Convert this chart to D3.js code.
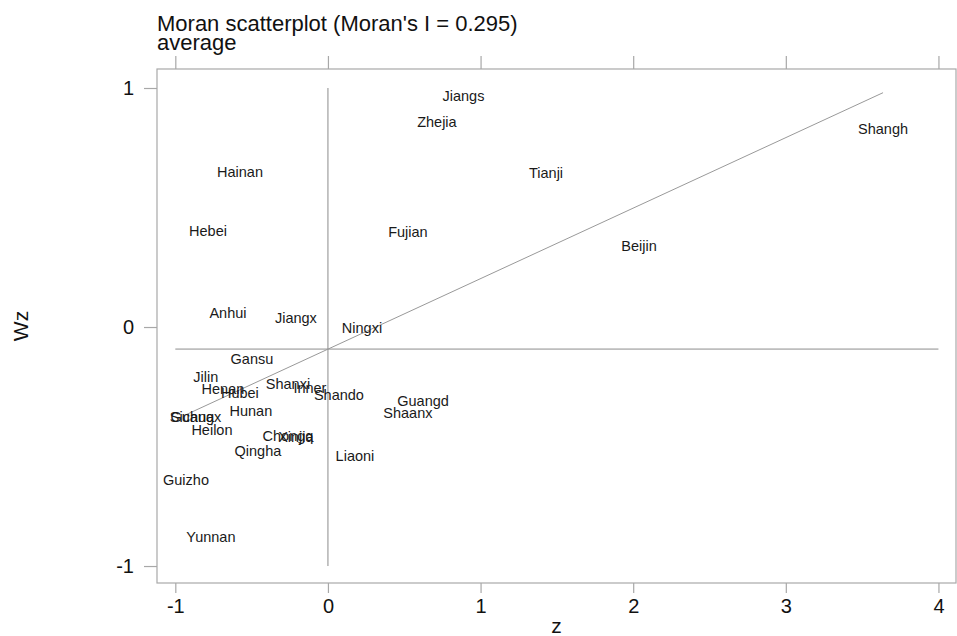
<!DOCTYPE html>
<html>
<head>
<meta charset="utf-8">
<script src="https://cdn.jsdelivr.net/npm/d3@7"></script>
<style>
  html, body { margin: 0; padding: 0; background: #fff; }
  svg { display: block; }
  text { font-family: "Liberation Sans", Arial, Helvetica, sans-serif; }
</style>
</head>
<body>
<svg id="chart" width="957" height="636"></svg>
<script>
// ---- data ----
const provinces = ["Jiangs","Zhejia","Shangh","Tianji","Hainan","Hebei","Fujian","Beijin","Anhui","Jiangx","Ningxi",
  "Gansu","Jilin","Henan","Hubei","Shanxi","Inner","Shando","Guangd","Shaanx","Hunan","Sichua","Guangx",
  "Heilon","Chongq","Xinjia","Qingha","Liaoni","Guizho","Yunnan"];
const zValues = [0.888, 0.714, 3.637, 1.429, -0.576, -0.786, 0.524, 2.038, -0.655, -0.210, 0.223,
  -0.498, -0.800, -0.688, -0.577, -0.262, -0.118, 0.072, 0.623, 0.524, -0.505, -0.891, -0.865,
  -0.760, -0.262, -0.210, -0.459, 0.177, -0.930, -0.767];
const wzValues = [0.947, 0.838, 0.809, 0.625, 0.629, 0.383, 0.378, 0.319, 0.039, 0.018, -0.024,
  -0.154, -0.229, -0.279, -0.296, -0.258, -0.275, -0.304, -0.329, -0.380, -0.371, -0.396, -0.396,
  -0.451, -0.476, -0.480, -0.538, -0.559, -0.660, -0.898];
const xTicks = [-1, 0, 1, 2, 3, 4];
const yTicks = [-1, 0, 1];
const moransI = 0.295;
const titleText = "Moran scatterplot (Moran's I = 0.295)";
const subtitleText = "average";
const xTitle = "z";
const yTitle = "Wz";

// ---- layout ----
const svg = d3.select("#chart");
const plot = { left: 157, right: 956, top: 69, bottom: 583 };
const x = d3.scaleLinear().domain([-1.12, 4.115]).range([plot.left, plot.right]);
const y = d3.scaleLinear().domain([-1.071, 1.0795]).range([plot.bottom, plot.top]);

const frameColor = "#a8a8a8";
const lineColor = "#8c8c8c";

// frame
svg.append("rect")
  .attr("x", plot.left).attr("y", plot.top)
  .attr("width", plot.right - plot.left).attr("height", plot.bottom - plot.top)
  .attr("fill", "none").attr("stroke", frameColor).attr("stroke-width", 1.2);

// axes
const fmt = d => String(d);
const gx = svg.append("g").attr("transform", `translate(0,${plot.bottom})`)
  .call(d3.axisBottom(x).tickValues(xTicks).tickSize(10).tickPadding(6).tickFormat(fmt));
const gxTop = svg.append("g").attr("transform", `translate(0,${plot.top})`)
  .call(d3.axisTop(x).tickValues(xTicks).tickSize(13).tickFormat(""));
const gy = svg.append("g").attr("transform", `translate(${plot.left},0)`)
  .call(d3.axisLeft(y).tickValues(yTicks).tickSize(13).tickPadding(10).tickFormat(fmt));

[gx, gxTop, gy].forEach(g => {
  g.select(".domain").remove();
  g.selectAll(".tick line").attr("stroke", frameColor).attr("stroke-width", 1.2);
  g.selectAll(".tick text").attr("fill", "#111").style("font-size", "20px")
    .style("font-family", '"Liberation Sans", Arial, sans-serif');
});

// reference lines
const meanZ = d3.mean(zValues);
const meanWz = d3.mean(wzValues);
svg.append("line")
  .attr("x1", x(0)).attr("x2", x(0)).attr("y1", y(1)).attr("y2", y(-1))
  .attr("stroke", lineColor).attr("stroke-width", 1);
svg.append("line")
  .attr("x1", x(-1)).attr("x2", x(4)).attr("y1", y(meanWz)).attr("y2", y(meanWz))
  .attr("stroke", lineColor).attr("stroke-width", 1);

// regression line
const zMin = d3.min(zValues), zMax = d3.max(zValues);
const intercept = meanWz - moransI * meanZ;
svg.append("line")
  .attr("x1", x(zMin)).attr("y1", y(intercept + moransI * zMin))
  .attr("x2", x(zMax)).attr("y2", y(intercept + moransI * zMax))
  .attr("stroke", "#999").attr("stroke-width", 1);

// marker labels (markers invisible, labels centred on points)
const pts = provinces.map((p, i) => ({ name: p, z: zValues[i], wz: wzValues[i] }));
svg.append("g").selectAll("text").data(pts).join("text")
  .attr("x", d => x(d.z))
  .attr("y", d => y(d.wz) + 0.5)
  .attr("text-anchor", "middle")
  .attr("fill", "#1a1a1a")
  .style("font-size", "14.5px")
  .text(d => d.name);

// titles
svg.append("text").attr("x", plot.left).attr("y", 31)
  .style("font-size", "22px").attr("fill", "#111").text(titleText);
svg.append("text").attr("x", plot.left).attr("y", 50)
  .style("font-size", "22px").attr("fill", "#111").text(subtitleText);

// axis titles
svg.append("text").attr("x", (plot.left + plot.right) / 2).attr("y", 633)
  .attr("text-anchor", "middle").style("font-size", "21px").attr("fill", "#111").text(xTitle);
svg.append("text")
  .attr("transform", `translate(28,${(plot.top + plot.bottom) / 2}) rotate(-90)`)
  .attr("text-anchor", "middle").style("font-size", "21px").attr("fill", "#111").text(yTitle);
</script>
</body>
</html>
